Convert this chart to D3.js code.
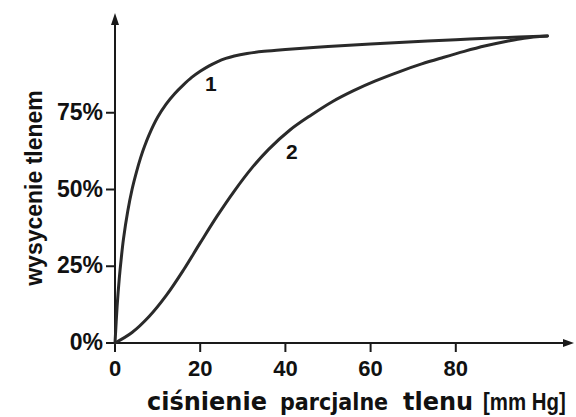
<!DOCTYPE html>
<html>
<head>
<meta charset="utf-8">
<script src="https://cdn.jsdelivr.net/npm/d3@7"></script>
<style>
  body { margin: 0; background: #fff; }
  text { fill: #111; }
</style>
</head>
<body>
<svg id="chart" width="576" height="417"></svg>
<script>
// saturation curves: [pressure mmHg, saturation %]
var curve1 = [[0,0],[0.5,12],[1,21],[1.5,28],[2,34],[3,43],[4,50],[5,55.5],[6,60.3],[7,64.3],[8,67.8],[10,73.5],[12,77.8],[14,81.2],[16,84],[18,86.5],[20,88.5],[22,90.2],[24,91.6],[26,92.7],[28,93.5],[31,94.3],[35,95],[40,95.6],[50,96.6],[60,97.4],[70,98.1],[80,98.8],[90,99.4],[101.5,100]];
var curve2 = [[0,0],[4,3.4],[8,8.6],[12,15.4],[16,23.6],[20,32.6],[24,41.4],[28,49.5],[32,56.8],[36,63],[41,69.3],[46,74.2],[51,78.6],[56,82.2],[61,85.3],[67,88.5],[72,90.9],[77,93],[82,95],[87,96.8],[92,98.3],[96,99.3],[101.5,100]];
var curveLabels = [{name:"1", p:22.5, s:82}, {name:"2", p:41.5, s:60}];
var xTicks = [0, 20, 40, 60, 80];
var yTicks = [0, 25, 50, 75];

var svg = d3.select("#chart");
var x = d3.scaleLinear().domain([0, 100]).range([115, 541]);
var y = d3.scaleLinear().domain([0, 100]).range([343, 36]);

var ink = "#1a1a1a";

// axes
svg.append("line")
    .attr("x1", x(0)).attr("y1", y(0))
    .attr("x2", 566).attr("y2", y(0))
    .style("stroke", ink).style("stroke-width", 2);
svg.append("path")
    .attr("d", "M574," + y(0) + " L563," + (y(0)-4) + " L563," + (y(0)+4) + " Z")
    .style("fill", ink);
svg.append("line")
    .attr("x1", x(0)).attr("y1", y(0))
    .attr("x2", x(0)).attr("y2", 22)
    .style("stroke", ink).style("stroke-width", 2);
svg.append("path")
    .attr("d", "M" + x(0) + ",13 L" + (x(0)-4) + ",25 L" + (x(0)+4) + ",25 Z")
    .style("fill", ink);

// x ticks
svg.selectAll(".xtick").data(xTicks).enter().append("line")
    .attr("class", "xtick")
    .attr("x1", d => x(d)).attr("x2", d => x(d))
    .attr("y1", y(0)).attr("y2", y(0) + 9)
    .style("stroke", ink).style("stroke-width", 2);
svg.selectAll(".xlab").data(xTicks).enter().append("text")
    .attr("class", "xlab")
    .attr("x", d => x(d)).attr("y", 376)
    .attr("text-anchor", "middle")
    .style("font-family", "Liberation Sans, Arial, sans-serif")
    .style("font-weight", "bold").style("font-size", "22px")
    .text(d => d);

// y ticks
svg.selectAll(".ytick").data(yTicks).enter().append("line")
    .attr("class", "ytick")
    .attr("x1", x(0) - 9).attr("x2", x(0))
    .attr("y1", d => y(d)).attr("y2", d => y(d))
    .style("stroke", ink).style("stroke-width", 2);
svg.selectAll(".ylab").data(yTicks).enter().append("text")
    .attr("class", "ylab")
    .attr("x", 103).attr("y", d => y(d) + 7)
    .attr("text-anchor", "end")
    .style("font-family", "Liberation Sans, Arial, sans-serif")
    .style("font-weight", "bold").style("font-size", "23px")
    .text(d => d + "%");

// axis title, words set separately like in the picture
var titleWords = [
    {t:"ciśnienie", x:147, f:"DejaVu Sans, Verdana, sans-serif", s:24, k:1},
    {t:"parcjalne", x:280, f:"DejaVu Sans Condensed, Liberation Sans, sans-serif", s:23, k:1},
    {t:"tlenu", x:403, f:"DejaVu Sans, Verdana, sans-serif", s:24, k:1},
    {t:"[mm Hg]", x:483, f:"Liberation Sans, Arial, sans-serif", s:24, k:0.85}
];
svg.selectAll(".xtitle").data(titleWords).enter().append("text")
    .attr("class", "xtitle")
    .attr("transform", d => "translate(" + d.x + ",410) scale(" + d.k + ",1)")
    .style("font-family", d => d.f)
    .style("font-size", d => d.s + "px")
    .style("font-weight", "bold")
    .text(d => d.t);

svg.append("text")
    .attr("transform", "translate(42,188) rotate(-90)")
    .attr("text-anchor", "middle")
    .style("font-family", "Liberation Sans, Arial, sans-serif")
    .style("font-weight", "bold").style("font-size", "23px")
    .text("wysycenie tlenem");

// curves
var line = d3.line()
    .x(d => x(d[0]))
    .y(d => y(d[1]))
    .curve(d3.curveCatmullRom.alpha(0.5));

svg.selectAll(".curve").data([curve1, curve2]).enter().append("path")
    .attr("class", "curve")
    .attr("d", line)
    .style("fill", "none")
    .style("stroke", "#2a2a2a")
    .style("stroke-width", 3)
    .style("stroke-linecap", "round");

svg.selectAll(".clab").data(curveLabels).enter().append("text")
    .attr("class", "clab")
    .attr("x", d => x(d.p)).attr("y", d => y(d.s))
    .attr("text-anchor", "middle")
    .style("font-family", "Liberation Sans, Arial, sans-serif")
    .style("font-weight", "bold").style("font-size", "21px")
    .text(d => d.name);
</script>
</body>
</html>
